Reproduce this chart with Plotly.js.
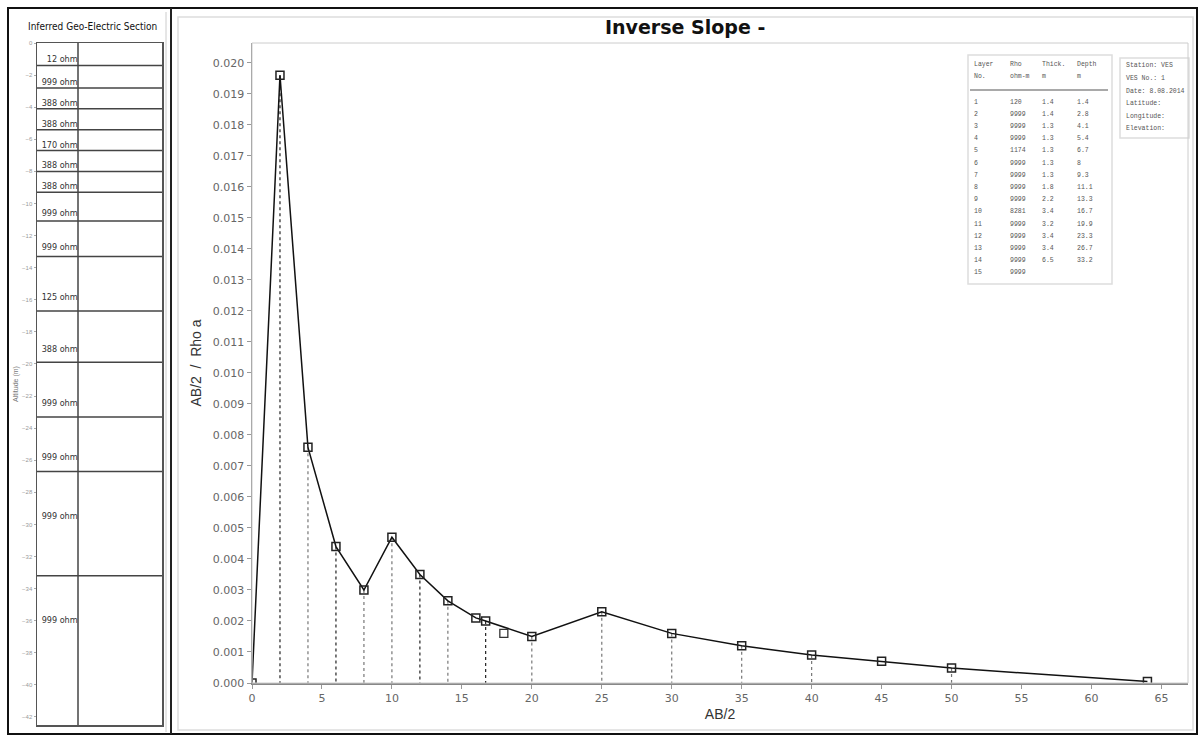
<!DOCTYPE html>
<html><head><meta charset="utf-8">
<script src="https://cdn.plot.ly/plotly-3.0.1.min.js"></script>
<style>html,body{margin:0;padding:0;background:#fff;}#chart{width:1202px;height:735px;}</style>
</head><body><div id="chart"></div>
<script>
// ---- Inverse slope curve ----
const abHalf   = [0, 2, 4, 6, 8, 10, 12, 14, 16, 16.7, 20, 25, 30, 35, 40, 45, 50, 64];
const invSlope = [0, 0.0196, 0.0076, 0.0044, 0.0030, 0.0047, 0.0035, 0.00265, 0.0021, 0.0020, 0.0015, 0.0023, 0.0016, 0.0012, 0.0009, 0.0007, 0.00048, 0.00005];
const extraX = [18];
const extraY = [0.0016];
const darkDrops  = [2, 6, 12, 16.7];
const lightDrops = [4, 8, 10, 14, 20, 25, 30, 35, 40, 50];

// ---- Inferred geo-electric section ----
const layerDepth = [1.4, 2.8, 4.1, 5.4, 6.7, 8.0, 9.3, 11.1, 13.3, 16.7, 19.9, 23.3, 26.7, 33.2];
const layerLabel = ["12 ohm","999 ohm","388 ohm","388 ohm","170 ohm","388 ohm","388 ohm","999 ohm","999 ohm","125 ohm","388 ohm","999 ohm","999 ohm","999 ohm","999 ohm"];

// ---- Layer table ----
const tblLayer = ["1","2","3","4","5","6","7","8","9","10","11","12","13","14","15"];
const tblRho   = ["120","9999","9999","9999","1174","9999","9999","9999","9999","8281","9999","9999","9999","9999","9999"];
const tblThick = ["1.4","1.4","1.3","1.3","1.3","1.3","1.3","1.8","2.2","3.4","3.2","3.4","3.4","6.5",""];
const tblDepth = ["1.4","2.8","4.1","5.4","6.7","8","9.3","11.1","13.3","16.7","19.9","23.3","26.7","33.2",""];
const tblHead1 = ["Layer","Rho","Thick.","Depth"];
const tblHead2 = ["No.","ohm-m","m","m"];
const metaLines = ["Station: VES","VES No.: 1","Date: 8.08.2014","Latitude:","Longitude:","Elevation:"];

const W = 1202, H = 735;
const px = x => x / W;
const py = y => 1 - y / H;

function dropTrace(list, color) {
  const xs = [], ys = [];
  list.forEach(v => {
    const i = abHalf.indexOf(v);
    xs.push(v, v, null); ys.push(invSlope[i], 0, null);
  });
  return {x: xs, y: ys, mode: 'lines', type: 'scatter', hoverinfo: 'skip',
          line: {color: color, width: 1.2, dash: 'dot'}, xaxis: 'x', yaxis: 'y'};
}

const traces = [];
traces.push(dropTrace(lightDrops, '#777'));
traces.push(dropTrace(darkDrops, '#222'));
traces.push({x: abHalf, y: invSlope, type: 'scatter', mode: 'lines+markers',
  line: {color: '#111', width: 1.5},
  marker: {symbol: 'square-open', size: 8, color: '#222', line: {width: 1.5}},
  xaxis: 'x', yaxis: 'y'});
traces.push({x: extraX, y: extraY, type: 'scatter', mode: 'markers',
  marker: {symbol: 'square-open', size: 8, color: '#333', line: {width: 1.3}},
  xaxis: 'x', yaxis: 'y'});

// section boundaries
const bx = [], by = [];
layerDepth.forEach(d => { bx.push(0, 1, null); by.push(-d, -d, null); });
traces.push({x: bx, y: by, type: 'scatter', mode: 'lines', hoverinfo: 'skip',
  line: {color: '#444', width: 1.5}, xaxis: 'x2', yaxis: 'y2'});

// section labels
const sectionBottom = 42.5;
const tops = [0].concat(layerDepth);
const bots = layerDepth.concat([sectionBottom]);
const lx = [], ly = [];
tops.forEach((t, i) => {
  const th = bots[i] - t;
  const off = Math.max(0.3 * th, Math.min(0.75 * th, 2.8));
  lx.push(0.325); ly.push(-(t + off));
});
traces.push({x: lx, y: ly, text: layerLabel, type: 'scatter', mode: 'text',
  textposition: 'middle left', hoverinfo: 'skip',
  textfont: {family: '"Liberation Sans Narrow","DejaVu Sans Condensed","Liberation Sans",sans-serif', size: 9, color: '#333'},
  xaxis: 'x2', yaxis: 'y2'});

const annotations = [];
annotations.push({text: '<b>Inverse Slope -</b>', x: px(685), y: py(27), xref: 'paper', yref: 'paper',
  showarrow: false, xanchor: 'center', yanchor: 'middle',
  font: {family: '"DejaVu Sans", Verdana, sans-serif', size: 19, color: '#111'}});
annotations.push({text: 'Inferred Geo-Electric Section', x: px(92), y: py(27), xref: 'paper', yref: 'paper',
  showarrow: false, xanchor: 'center', yanchor: 'middle',
  font: {family: '"Liberation Sans Narrow","DejaVu Sans Condensed","Liberation Sans",sans-serif', size: 10, color: '#111'}});

const mono = {family: '"Liberation Mono","DejaVu Sans Mono",monospace', size: 6.5, color: '#555'};
const colX = [972, 1008, 1040, 1075];
function cell(t, x, y) {
  annotations.push({text: t, x: px(x), y: py(y), xref: 'paper', yref: 'paper', showarrow: false,
    xanchor: 'left', yanchor: 'middle', font: mono});
}
tblHead1.forEach((t, j) => cell(t, colX[j], 64));
tblHead2.forEach((t, j) => cell(t, colX[j], 77));
tblLayer.forEach((t, i) => {
  const y = 102 + i * 12.2;
  cell(t, colX[0], y); cell(tblRho[i], colX[1], y); cell(tblThick[i], colX[2], y); cell(tblDepth[i], colX[3], y);
});
metaLines.forEach((t, i) => {
  annotations.push({text: t, x: px(1124), y: py(66 + i * 12.5), xref: 'paper', yref: 'paper', showarrow: false,
    xanchor: 'left', yanchor: 'middle', font: mono});
});

const shapes = [
  {type: 'rect', xref: 'paper', yref: 'paper', x0: px(8), x1: px(1197), y0: py(734), y1: py(8), line: {color: '#111', width: 2}},
  {type: 'line', xref: 'paper', yref: 'paper', x0: px(171), x1: px(171), y0: py(734), y1: py(8), line: {color: '#222', width: 2}},
  {type: 'line', xref: 'paper', yref: 'paper', x0: px(166), x1: px(166), y0: py(732), y1: py(12), line: {color: '#ccc', width: 1}},
  {type: 'rect', xref: 'paper', yref: 'paper', x0: px(178), x1: px(1193), y0: py(730), y1: py(17), line: {color: '#ddd', width: 1.5}},
  {type: 'rect', xref: 'x domain', yref: 'y domain', x0: 0, x1: 1, y0: 0, y1: 1, line: {color: '#ccc', width: 1}},
  {type: 'line', xref: 'x2', yref: 'y2 domain', x0: 0.328, x1: 0.328, y0: 0, y1: 1, line: {color: '#444', width: 1.5}},
  {type: 'rect', xref: 'paper', yref: 'paper', x0: px(968), x1: px(1112), y0: py(284), y1: py(55), line: {color: '#ddd', width: 1.5}, fillcolor: '#fff', layer: 'below'},
  {type: 'line', xref: 'paper', yref: 'paper', x0: px(970), x1: px(1108), y0: py(90), y1: py(90), line: {color: '#555', width: 1.2}},
  {type: 'rect', xref: 'paper', yref: 'paper', x0: px(1120), x1: px(1189), y0: py(138), y1: py(58), line: {color: '#ddd', width: 1.5}, fillcolor: '#fff', layer: 'below'}
];

const tickFont = {family: '"DejaVu Sans", Verdana, sans-serif', size: 11, color: '#666'};
const layout = {
  width: W, height: H, margin: {l: 0, r: 0, t: 0, b: 0, pad: 0},
  paper_bgcolor: '#fff', plot_bgcolor: '#fff', showlegend: false,
  xaxis: {domain: [px(252), px(1188)], range: [0, 66.9], dtick: 5, tick0: 0,
    showgrid: false, zeroline: false, showline: true, linecolor: '#888', linewidth: 1.5,
    ticks: 'outside', ticklen: 4, tickcolor: '#999', tickfont: tickFont,
    title: {text: 'AB/2', font: {family: '"Liberation Sans", Arial, sans-serif', size: 14, color: '#333'}, standoff: 5}},
  yaxis: {domain: [py(683), py(43)], range: [0, 0.02064], dtick: 0.001, tick0: 0, tickformat: '.3f',
    showgrid: false, zeroline: false, showline: true, linecolor: '#888', linewidth: 1.5,
    ticks: 'outside', ticklen: 4, tickcolor: '#999', tickfont: tickFont,
    title: {text: 'AB/2  /  Rho a', font: {family: '"Liberation Sans", Arial, sans-serif', size: 14, color: '#333'}, standoff: 8}},
  xaxis2: {domain: [px(37), px(162)], range: [0, 1], showgrid: false, zeroline: false,
    showticklabels: false, ticks: '', showline: true, mirror: true, linecolor: '#555', linewidth: 1.5, anchor: 'y2'},
  yaxis2: {domain: [py(725), py(43)], range: [-sectionBottom, 0], dtick: 2, tick0: 0,
    showgrid: false, zeroline: false, showline: true, mirror: true, linecolor: '#555', linewidth: 1.5,
    ticks: 'outside', ticklen: 2, tickcolor: '#aaa', anchor: 'x2',
    tickfont: {family: '"Liberation Sans", Arial, sans-serif', size: 6, color: '#999'},
    title: {text: 'Altitude (m)', font: {family: '"Liberation Sans", Arial, sans-serif', size: 7, color: '#777'}, standoff: 2}},
  shapes: shapes,
  annotations: annotations
};

Plotly.newPlot('chart', traces, layout, {staticPlot: true, displayModeBar: false});
</script>
</body></html>
